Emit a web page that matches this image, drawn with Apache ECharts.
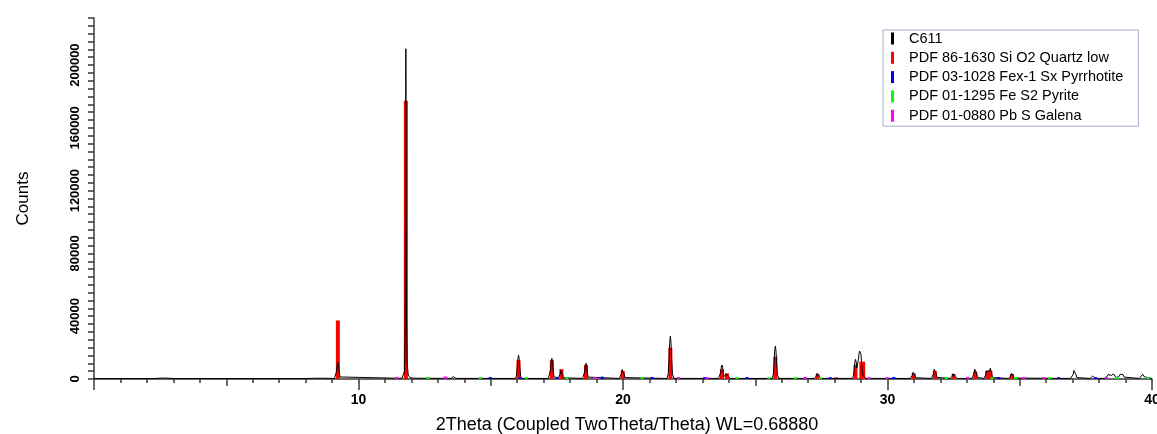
<!DOCTYPE html>
<html>
<head>
<meta charset="utf-8">
<script src="https://cdn.jsdelivr.net/npm/echarts@6/dist/echarts.min.js"></script>
<style>
html,body{margin:0;padding:0;background:#fff;}
#chart{width:1157px;height:434px;}
</style>
</head>
<body>
<div id="chart"></div>
<script>
// ---- data ----
const seriesNames = [
  'C611',
  'PDF 86-1630 Si O2 Quartz low',
  'PDF 03-1028 Fex-1 Sx Pyrrhotite',
  'PDF 01-1295 Fe S2 Pyrite',
  'PDF 01-0880 Pb S Galena'
];

// measured pattern C611: [2theta, counts]
const profileC611 = [
  [0.0,300],[2.3,300],[2.5,550],[2.65,600],[2.8,550],[3.0,300],
  [8.0,300],[8.3,450],[8.6,500],[8.9,400],
  [9.09,350],[9.14,1300],[9.17,4900],[9.195,9200],[9.22,10800],[9.245,9200],[9.27,4900],[9.30,1300],[9.35,400],
  [11.55,450],[11.65,700],[11.70,1500],[11.74,5000],[11.765,30000],[11.78,120000],[11.79,210400],[11.80,150000],[11.815,40000],[11.84,10000],[11.88,2500],[11.95,900],[12.1,500],
  [13.20,400],[13.29,800],[13.38,400],
  [13.50,400],[13.56,1200],[13.59,1500],[13.62,1200],[13.68,400],
  [15.92,350],[15.97,1800],[16.00,6800],[16.025,12900],[16.05,15200],[16.075,12900],[16.10,6800],[16.13,1800],[16.18,350],
  [17.18,350],[17.23,1600],[17.26,5900],[17.285,11100],[17.31,13100],[17.335,11100],[17.36,5900],[17.39,1600],[17.44,350],
  [17.54,350],[17.59,800],[17.62,2900],[17.645,5500],[17.67,6500],[17.695,5500],[17.72,2900],[17.75,800],[17.80,350],
  [18.47,350],[18.52,1200],[18.55,4500],[18.575,8500],[18.60,10000],[18.625,8500],[18.65,4500],[18.68,1200],[18.73,350],
  [19.86,350],[19.91,900],[19.94,3200],[19.965,6100],[19.99,7200],[20.015,6100],[20.04,3200],[20.07,900],[20.12,350],
  [21.66,350],[21.71,3300],[21.74,12300],[21.765,23200],[21.79,27300],[21.815,23200],[21.84,12300],[21.87,3300],[21.92,400],
  [23.61,350],[23.66,1100],[23.69,4000],[23.715,7600],[23.74,8900],[23.765,7600],[23.79,4000],[23.82,1500],[23.85,1400],[23.88,2200],[23.905,3300],[23.93,3800],[23.955,3200],[23.98,1700],[24.01,600],[24.06,350],
  [25.63,350],[25.68,2500],[25.71,9500],[25.735,17800],[25.76,21000],[25.785,17800],[25.81,9500],[25.84,2500],[25.89,400],
  [27.23,350],[27.28,700],[27.31,1900],[27.335,3700],[27.36,4300],[27.385,3700],[27.41,1900],[27.44,700],[27.49,350],
  [28.66,400],[28.71,1800],[28.74,5600],[28.765,10600],[28.79,12500],[28.815,10800],[28.84,7000],[28.87,7500],[28.895,12000],[28.92,15700],[28.945,17800],[28.97,18400],[28.995,16000],[29.02,10000],[29.05,4500],[29.08,2000],[29.12,900],[29.18,400],
  [30.86,350],[30.91,800],[30.94,2300],[30.965,4300],[30.99,5100],[31.015,4300],[31.04,2300],[31.07,800],[31.12,350],
  [31.66,350],[31.71,1000],[31.74,3300],[31.765,6300],[31.79,7400],[31.815,6300],[31.84,3300],[31.87,1000],[31.92,350],
  [32.37,350],[32.42,600],[32.45,1800],[32.475,3400],[32.50,4000],[32.525,3400],[32.55,1800],[32.58,600],[32.63,350],
  [33.19,350],[33.24,1000],[33.27,3300],[33.295,6300],[33.32,7400],[33.345,6300],[33.37,3300],[33.40,1000],[33.45,350],
  [33.64,350],[33.69,900],[33.72,2800],[33.745,5200],[33.77,6100],[33.795,5300],[33.82,4300],[33.845,5000],[33.865,6000],[33.89,6800],[33.915,5800],[33.94,3100],[33.97,900],[34.02,350],
  [34.58,350],[34.63,600],[34.66,1900],[34.685,3600],[34.71,4200],[34.735,3600],[34.76,1900],[34.79,600],[34.84,350],
  [36.92,350],[36.98,900],[37.02,3000],[37.045,5400],[37.07,6300],[37.095,5400],[37.12,3000],[37.16,900],[37.22,350],
  [37.66,350],[37.71,900],[37.76,1900],[37.81,900],[37.86,350],
  [38.24,400],[38.30,1500],[38.34,2800],[38.37,3200],[38.41,2600],[38.46,2300],[38.51,2900],[38.55,3200],[38.59,2200],[38.64,900],[38.70,700],[38.75,1600],[38.80,3000],[38.85,3600],[38.90,2800],[38.95,1200],[39.02,450],
  [39.52,350],[39.59,1400],[39.65,3000],[39.71,1400],[39.78,350],
  [40.0,300]
];

// reference sticks: [2theta, counts]
const quartzSticks = [
  [9.22,37300],[11.79,177200],[16.05,12000],[17.31,12000],[17.67,6300],[18.60,8900],
  [19.99,5100],[21.79,19900],[23.74,6200],[23.93,3600],[25.76,14200],[27.36,3000],
  [28.07,1000],[28.79,8900],[29.01,11000],[29.08,11000],[30.99,3600],[31.79,5100],
  [32.50,3200],[33.32,4700],[33.77,5100],[33.89,5300],[34.71,3200],[35.97,700]
];
const pyrrhotiteSticks = [
  [14.98,1300],[16.11,1200],[17.50,1300],[19.21,1500],[21.10,1300],[23.09,1200],
  [24.69,1300],[27.84,1200],[30.24,1300],[34.21,1300],[36.47,1200],[37.86,1200]
];
const pyriteSticks = [
  [12.62,1300],[14.60,1200],[16.34,1300],[17.88,1300],[20.72,1300],[24.31,1300],
  [25.51,1200],[26.52,1200],[27.46,1300],[32.22,1300],[33.95,1200],[34.84,1300],
  [36.12,1200],[38.68,1200],[39.85,1300]
];
const galenaSticks = [
  [11.45,1300],[13.28,1600],[18.95,1300],[22.10,1300],[23.18,1300],[26.89,1300],
  [29.29,1200],[29.98,1200],[33.04,1300],[35.15,1300],[35.92,1200],[38.28,1300]
];

const xLabels = [10, 20, 30, 40];
const yLabels = [0, 40000, 80000, 120000, 160000, 200000];

// ---- chart ----
const chart = echarts.init(document.getElementById('chart'), null, {renderer: 'canvas'});
const FONT = '"Liberation Sans", Arial, sans-serif';
const axisCol = '#3a3a3a';

function stickSeries(name, data, color, w, z) {
  return {
    name: name,
    type: 'custom',
    xAxisIndex: 0, yAxisIndex: 0,
    z: z,
    itemStyle: {color: color},
    data: data,
    renderItem: function (params, api) {
      const x = api.value(0), y = api.value(1);
      const p0 = api.coord([x, 0]);
      const p1 = api.coord([x, y]);
      return {
        type: 'rect',
        shape: {x: p0[0] - w / 2, y: p1[1], width: w, height: p0[1] - p1[1]},
        style: {fill: color}
      };
    }
  };
}

const xCommon = {type: 'value', min: 0, max: 40, gridIndex: 0, position: 'bottom', offset: 0, splitLine: {show: false}};

chart.setOption({
  animation: false,
  backgroundColor: '#ffffff',
  grid: {left: 94, right: 5, top: 18, bottom: 55, containLabel: false, outerBoundsMode: 'none'},
  legend: {
    orient: 'vertical',
    left: 883, top: 30,
    padding: [1, 15, 3, 8],
    itemGap: 4.3,
    itemWidth: 3, itemHeight: 12,
    icon: 'rect',
    backgroundColor: '#ffffff',
    borderColor: '#a3b0c4', borderWidth: 1,
    textStyle: {fontFamily: FONT, fontSize: 14.5, color: '#000', padding: [0, 0, 0, 10]},
    data: seriesNames
  },
  xAxis: [
    Object.assign({}, xCommon, {
      interval: 10,
      name: '2Theta (Coupled TwoTheta/Theta) WL=0.68880',
      nameLocation: 'middle', nameGap: 37,
      nameTextStyle: {fontFamily: FONT, fontSize: 18, color: '#000', padding: [0, 0, 0, 8]},
      axisLine: {show: true, onZero: false, lineStyle: {color: axisCol, width: 1.5}},
      axisTick: {show: true, inside: false, length: 11, lineStyle: {color: axisCol, width: 1.5}},
      axisLabel: {
        show: true, margin: 14,
        fontFamily: FONT, fontSize: 14, fontWeight: 'bold', color: '#000',
        formatter: function (v) { return xLabels.indexOf(v) >= 0 ? String(v) : ''; }
      }
    }),
    Object.assign({}, xCommon, {
      interval: 5,
      axisLine: {show: false, onZero: false},
      axisTick: {show: true, inside: false, length: 7, lineStyle: {color: axisCol, width: 1.5}},
      axisLabel: {show: false}
    }),
    Object.assign({}, xCommon, {
      interval: 1,
      axisLine: {show: false, onZero: false},
      axisTick: {show: true, inside: false, length: 4, lineStyle: {color: axisCol, width: 1.5}},
      axisLabel: {show: false}
    })
  ],
  yAxis: {
    type: 'value', min: 0, max: 230000, interval: 5000, position: 'left',
    name: 'Counts', nameLocation: 'middle', nameGap: 62, nameRotate: 90,
    nameTextStyle: {fontFamily: FONT, fontSize: 17, color: '#000'},
    splitLine: {show: false},
    axisLine: {show: true, onZero: false, lineStyle: {color: axisCol, width: 1.5}},
    axisTick: {show: true, length: 6, lineStyle: {color: axisCol, width: 1.5}},
    axisLabel: {
      show: true, rotate: 90, margin: 12,
      fontFamily: FONT, fontSize: 13, fontWeight: 'bold', color: '#000',
      formatter: function (v) { return yLabels.indexOf(v) >= 0 ? String(v) : ''; }
    }
  },
  series: [
    {
      name: seriesNames[0],
      type: 'line',
      xAxisIndex: 0, yAxisIndex: 0,
      z: 5,
      showSymbol: false, symbol: 'none',
      lineStyle: {color: '#000', width: 1},
      itemStyle: {color: '#000'},
      data: profileC611
    },
    stickSeries(seriesNames[1], quartzSticks, '#ff0000', 4, 3),
    stickSeries(seriesNames[2], pyrrhotiteSticks, '#0000ff', 3, 6),
    stickSeries(seriesNames[3], pyriteSticks, '#00ff00', 3, 6),
    stickSeries(seriesNames[4], galenaSticks, '#ff00ff', 3, 6)
  ]
});
</script>
</body>
</html>
